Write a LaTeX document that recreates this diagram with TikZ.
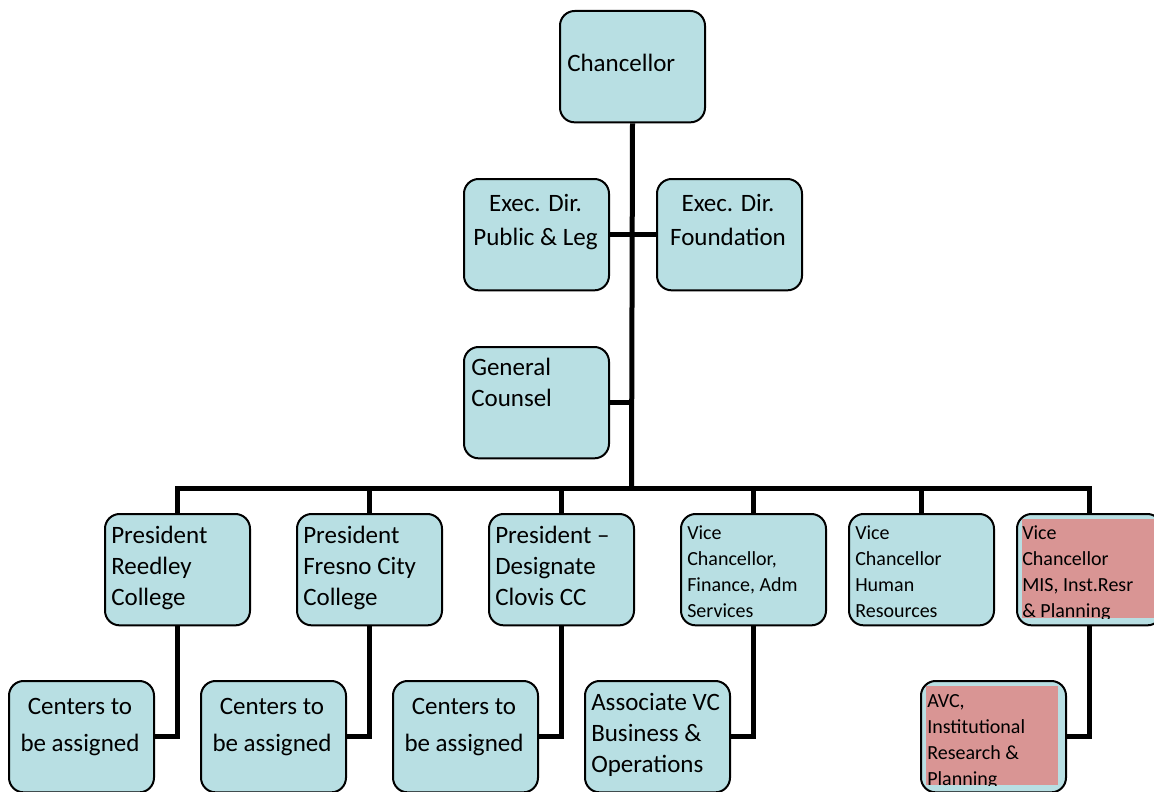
\documentclass[tikz,border=0pt]{standalone}
\usepackage{fontspec}
\setmainfont{Carlito}
\definecolor{boxblue}{HTML}{B8DFE3}
\definecolor{boxpink}{HTML}{D99594}
\begin{document}
\begin{tikzpicture}[x=0.75pt,y=-0.75pt,
  box/.style={draw=black,line width=1.5pt,rounded corners=11pt,fill=boxblue,
    minimum width=108.75pt,minimum height=83.5pt,inner sep=0pt,anchor=north west},
  conn/.style={draw=black,line width=3.75pt,line join=miter},
  bigtxt/.style={inner sep=0pt,anchor=base west,align=left,font=\fontsize{18.75}{23.25}\selectfont},
  cbigtxt/.style={inner sep=0pt,anchor=base,align=center,font=\fontsize{18.75}{25.5}\selectfont},
  centtxt/.style={inner sep=0pt,anchor=base,align=center,font=\fontsize{18.75}{27.75}\selectfont},
  smalltxt/.style={inner sep=0pt,anchor=base west,align=left,font=\fontsize{15}{19.5}\selectfont},
  pinkbg/.style={fill=boxpink}]
\useasboundingbox (0,0) rectangle (1154,792);
\clip (0,0) rectangle (1154,792);

% boxes
\node[box] (ch) at (559,10) {};
\node[box] (ed1) at (463,178) {};
\node[box] (ed2) at (656,178) {};
\node[box] (gc) at (463,346) {};
\node[box] (pr1) at (104,513) {};
\node[box] (pr2) at (296,513) {};
\node[box] (pr3) at (488,513) {};
\node[box] (vc1) at (680,513) {};
\node[box] (vc2) at (848,513) {};
\node[box] (vc3) at (1016,513) {};
\node[box] (ce1) at (8,680) {};
\node[box] (ce2) at (200,680) {};
\node[box] (ce3) at (392,680) {};
\node[box] (avc1) at (584,680) {};
\node[box] (avc2) at (920,680) {};

% pink highlights
\fill[pinkbg] (1022,519) rectangle (1160,618);
\fill[pinkbg] (926,686) rectangle (1058,785);

% connectors
\coordinate (j) at (631.5,488);
\draw[conn] (ch.south) -- (j);
\draw[conn] (ed1.east) -- (ed2.west);
\draw[conn] (gc.east) -- (gc.east -| ch.south);
\draw[conn] (pr1.north) -- (pr1.north |- j) -- (vc3.north |- j) -- (vc3.north);
\draw[conn] (pr2.north) -- (pr2.north |- j);
\draw[conn] (pr3.north) -- (pr3.north |- j);
\draw[conn] (vc1.north) -- (vc1.north |- j);
\draw[conn] (vc2.north) -- (vc2.north |- j);
\draw[conn] (pr1.south) |- (ce1.east);
\draw[conn] (pr2.south) |- (ce2.east);
\draw[conn] (pr3.south) |- (ce3.east);
\draw[conn] (vc1.south) |- (avc1.east);
\draw[conn] (vc3.south) |- (avc2.east);

% texts (anchor base = baseline of last line)
\node[bigtxt] (tch) at (567,72) {Chancellor};
\node[cbigtxt] (ted1) at (535.5,245) {Exec. Dir.\\Public \& Leg};
\node[cbigtxt] (ted2) at (728,245) {Exec. Dir.\\Foundation};
\node[bigtxt] (tgc) at (471,406) {General\\Counsel};
\node[bigtxt] (tpr1) at (111,605) {President\\Reedley\\College};
\node[bigtxt] (tpr2) at (303,605) {President\\Fresno City\\College};
\node[bigtxt] (tpr3) at (495,605) {President --\\Designate\\Clovis CC};
\node[smalltxt] (tvc1) at (687,617) {Vice\\Chancellor,\\Finance, Adm\\Services};
\node[smalltxt] (tvc2) at (855,617) {Vice\\Chancellor\\Human\\Resources};
\begin{scope}
\clip (1022,519) rectangle (1160,618);
\node[smalltxt] (tvc3) at (1022,617) {Vice\\Chancellor\\MIS, Inst.Resr\\\& Planning};
\end{scope}
\node[centtxt] (tce1) at (80,751) {Centers to\\be assigned};
\node[centtxt] (tce2) at (272,751) {Centers to\\be assigned};
\node[centtxt] (tce3) at (464,751) {Centers to\\be assigned};
\node[bigtxt] (tavc1) at (591,772) {Associate VC\\Business \&\\Operations};
\begin{scope}
\clip (926,686) rectangle (1058,785);
\node[smalltxt] (tavc2) at (927,785) {AVC,\\Institutional\\Research \&\\Planning};
\end{scope}
\end{tikzpicture}
\end{document}
